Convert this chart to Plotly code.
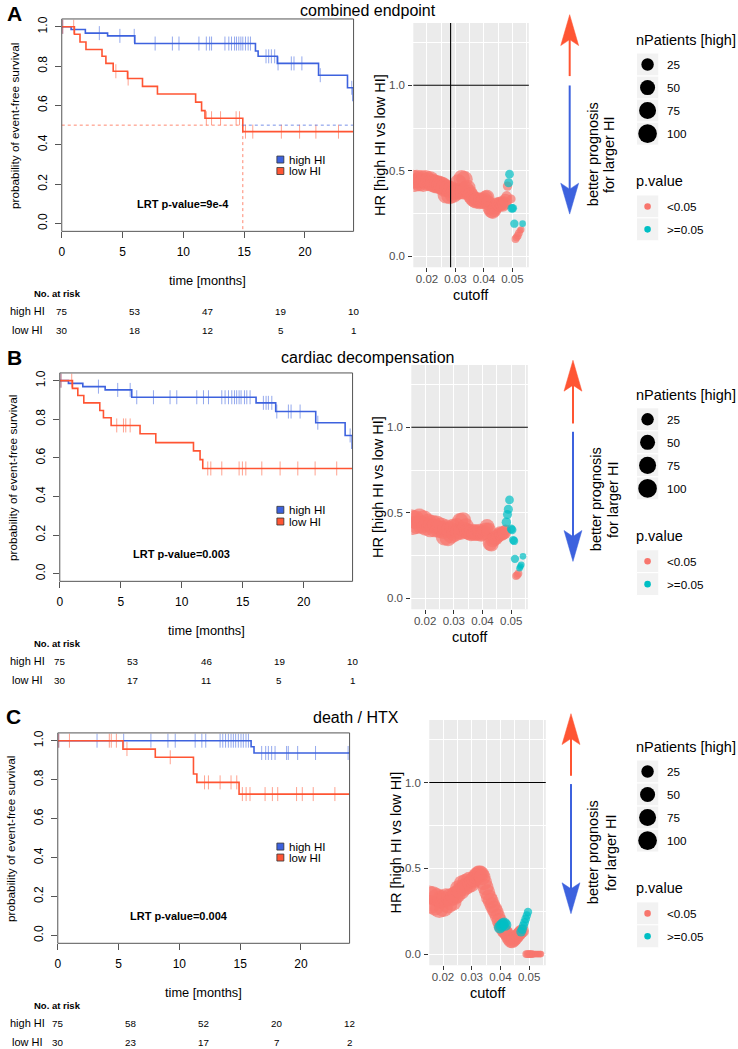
import plotly.graph_objects as go

W, H = 738, 1049
FONT = "Liberation Sans"
BLUE, RED = "#3D62DE", "#FF5533"
BLUE_TICK, RED_TICK = "rgba(61,98,222,0.55)", "rgba(255,85,51,0.55)"
PINK, TEAL = "#F8766D", "#00BFC4"
PANEL_BG = "#EBEBEB"

# ---------- panel texts ----------
tags = ["A", "B", "C"]
titles = ["combined endpoint", "cardiac decompensation", "death / HTX"]
lrt_labels = ["LRT p-value=9e-4", "LRT p-value=0.003", "LRT p-value=0.004"]
group_labels = ["high HI", "low HI"]

# ---------- Kaplan-Meier: event times [months], survival after event, censor times ----------
a_high_t = [0.77, 1.94, 3.77, 6.01, 15.93, 16.15, 17.73, 21.12, 23.5, 23.97]
a_high_s = [0.986, 0.968, 0.954, 0.915, 0.877, 0.850, 0.814, 0.754, 0.690, 0.625]
a_high_c = [0.08, 3.09, 4.78, 5.96, 7.68, 9.10, 9.64, 11.28, 11.89, 12.16, 12.32, 13.42,
            13.74, 13.96, 14.21, 14.37, 14.56, 14.73, 14.89, 15.11, 15.33, 15.52, 16.80,
            17.02, 17.24, 17.51, 17.79, 18.88, 19.10, 19.75, 21.26, 23.85]
a_low_t = [1.04, 1.50, 1.99, 3.31, 3.63, 4.23, 5.41, 6.64, 7.87, 11.01, 11.50, 11.78, 14.89]
a_low_s = [0.962, 0.923, 0.885, 0.850, 0.814, 0.774, 0.737, 0.697, 0.658, 0.617, 0.574, 0.535, 0.467]
a_low_c = [0.08, 0.98, 4.45, 5.46, 11.89, 12.32, 13.06, 14.34, 14.62, 15.11, 15.71, 18.06,
           19.56, 20.90, 22.76]

b_high_t = [0.71, 1.89, 3.72, 5.90, 16.09, 17.70, 20.98, 23.39, 23.97]
b_high_s = [0.986, 0.969, 0.952, 0.914, 0.885, 0.840, 0.782, 0.716, 0.650]
b_high_c = [0.10, 3.17, 4.75, 5.77, 6.31, 7.68, 9.04, 9.59, 11.23, 11.78, 12.19, 13.28,
            13.55, 13.83, 14.10, 14.32, 14.50, 14.70, 14.86, 15.14, 15.33, 15.60, 16.69,
            16.91, 17.10, 17.38, 17.79, 18.74, 18.96, 19.70, 21.15, 23.80]
b_low_t = [1.04, 1.48, 1.97, 3.28, 3.58, 4.21, 6.58, 7.87, 10.96, 11.50, 11.72]
b_low_s = [0.960, 0.923, 0.885, 0.845, 0.808, 0.768, 0.725, 0.679, 0.636, 0.591, 0.545]
b_low_c = [0.10, 0.98, 4.67, 5.22, 5.41, 5.77, 12.13, 12.38, 13.28, 14.70, 14.97, 15.25,
           16.56, 18.06, 19.51, 20.93, 22.70]

c_high_t = [15.90, 16.14]
c_high_s = [0.969, 0.937]
c_high_c = [0.08, 3.23, 5.42, 7.66, 9.06, 9.66, 11.30, 11.85, 12.17, 13.35, 13.57, 13.80,
            14.03, 14.25, 14.44, 14.63, 14.85, 15.07, 15.26, 15.48, 15.68, 16.77, 17.10,
            17.32, 17.59, 17.87, 18.82, 18.96, 19.73, 21.20, 23.88]
c_low_t = [5.36, 8.02, 11.16, 11.44, 14.91]
c_low_s = [0.957, 0.915, 0.829, 0.786, 0.726]
c_low_c = [0.08, 0.96, 4.24, 4.40, 4.82, 5.69, 9.25, 12.07, 12.39, 13.35, 14.25, 14.72,
           15.18, 15.49, 15.81, 17.05, 17.65, 18.09, 19.64, 20.11, 21.01, 22.79]

risk_times = [0, 6, 12, 18, 24]
a_risk_high = [75, 53, 47, 19, 10]
a_risk_low = [30, 18, 12, 5, 1]
b_risk_high = [75, 53, 46, 19, 10]
b_risk_low = [30, 17, 11, 5, 1]
c_risk_high = [75, 58, 52, 20, 12]
c_risk_low = [30, 23, 17, 7, 2]

# ---------- hazard ratio vs. cutoff ----------
band_cut = [0.0152, 0.0158, 0.0165, 0.0172, 0.0180, 0.0187, 0.0195, 0.0202,
            0.0210, 0.0218, 0.0225, 0.0233, 0.0240, 0.0248, 0.0255, 0.0262,
            0.0268, 0.0274, 0.0280, 0.0286, 0.0292, 0.0298, 0.0304, 0.0310,
            0.0316, 0.0322, 0.0327, 0.0332, 0.0337, 0.0342, 0.0348, 0.0354, 0.0360,
            0.0366, 0.0372, 0.0378, 0.0384, 0.0390, 0.0396, 0.0401, 0.0406, 0.0411,
            0.0416, 0.0421, 0.0426, 0.0431, 0.0436, 0.0441, 0.0446, 0.0451, 0.0456,
            0.0461, 0.0466, 0.0471, 0.0476]
band_n = [103, 102, 101, 100, 99, 98, 97, 96,
          95, 94, 93, 92, 91, 90, 89, 88,
          84, 81, 78, 75, 73, 72, 71, 70,
          69, 68, 67, 66, 65, 64, 62, 60, 59,
          58, 57, 56, 55, 53, 52, 50, 49, 47,
          46, 45, 44, 43, 42, 41, 40, 39, 38,
          37, 36, 35, 34]
a_band_hr = [0.45, 0.43, 0.45, 0.435, 0.45, 0.43, 0.45, 0.435,
             0.445, 0.43, 0.425, 0.42, 0.42, 0.415, 0.41, 0.40,
             0.36, 0.395, 0.355, 0.39, 0.36, 0.38, 0.375, 0.43,
             0.38, 0.455, 0.38, 0.45, 0.39, 0.40, 0.37, 0.355, 0.34,
             0.33, 0.325, 0.33, 0.32, 0.325, 0.32, 0.33, 0.34, 0.345,
             0.31, 0.28, 0.265, 0.26, 0.27, 0.285, 0.30, 0.305, 0.30,
             0.31, 0.30, 0.31, 0.325]
b_band_hr = [0.465, 0.425, 0.46, 0.43, 0.47, 0.43, 0.46, 0.42,
             0.44, 0.41, 0.435, 0.41, 0.43, 0.405, 0.42, 0.40,
             0.36, 0.41, 0.355, 0.40, 0.37, 0.415, 0.38, 0.42,
             0.39, 0.45, 0.39, 0.455, 0.40, 0.42, 0.39, 0.385, 0.38,
             0.39, 0.38, 0.385, 0.38, 0.39, 0.375, 0.38, 0.385, 0.40,
             0.42, 0.40, 0.32, 0.315, 0.34, 0.35, 0.35, 0.36, 0.37,
             0.38, 0.375, 0.38, 0.385]
c_band_hr = [0.345, 0.29, 0.34, 0.28, 0.33, 0.265, 0.32, 0.27,
             0.33, 0.29, 0.33, 0.305, 0.34, 0.35, 0.38, 0.37,
             0.41, 0.39, 0.42, 0.40, 0.43, 0.41, 0.43, 0.44,
             0.455, 0.465, 0.47, 0.465, 0.45, 0.42, 0.39, 0.36, 0.33,
             0.31, 0.285, 0.265, 0.245, 0.22, 0.195, 0.17, 0.155, 0.14,
             0.13, 0.12, 0.105, 0.09, 0.078, 0.075, 0.082, 0.09, 0.10,
             0.11, 0.12, 0.13, 0.135]

# extra points beyond the band: p<0.05 ("sig") and p>=0.05 ("ns")
a_sig_cut = [0.0480, 0.0483, 0.0496, 0.0511, 0.0515, 0.0519, 0.0523, 0.0527, 0.0531]
a_sig_hr = [0.35, 0.41, 0.335, 0.10, 0.11, 0.12, 0.135, 0.15, 0.155]
a_sig_n = [12, 7, 5, 3, 3, 3, 3, 2, 2]
a_ns_cut = [0.0487, 0.0490, 0.0498, 0.0502, 0.0507, 0.0536]
a_ns_hr = [0.43, 0.48, 0.28, 0.28, 0.19, 0.19]
a_ns_n = [6, 5, 5, 4, 4, 2]

b_sig_cut = [0.0480, 0.0517, 0.0521, 0.0525]
b_sig_hr = [0.40, 0.13, 0.135, 0.145]
b_sig_n = [12, 3, 3, 3]
b_ns_cut = [0.0483, 0.0487, 0.0490, 0.0494, 0.0500, 0.0503, 0.0507, 0.0510, 0.0513,
            0.0529, 0.0532, 0.0535, 0.0541]
b_ns_hr = [0.445, 0.49, 0.52, 0.575, 0.405, 0.40, 0.34, 0.335, 0.23, 0.175, 0.185, 0.195, 0.245]
b_ns_n = [7, 6, 6, 5, 5, 5, 4, 4, 4, 2, 2, 2, 2]

c_sig_cut = [0.0490, 0.0494, 0.0498, 0.0502, 0.0506, 0.0510, 0.0514, 0.0518, 0.0522,
             0.0526, 0.0530, 0.0534, 0.0538, 0.0541]
c_sig_hr = [0.0, 0.0, 0.0, 0.0, 0.0, 0.0, 0.0, 0.0, 0.0, 0.0, 0.0, 0.0, 0.0, 0.0]
c_sig_n = [3, 3, 3, 3, 3, 3, 2, 2, 2, 2, 2, 2, 2, 2]
c_ns_cut = [0.0398, 0.0403, 0.0408, 0.0413, 0.0418,
            0.0472, 0.0476, 0.0480, 0.0484, 0.0488, 0.0492, 0.0496]
c_ns_hr = [0.155, 0.165, 0.175, 0.18, 0.17, 0.13, 0.145, 0.165, 0.185, 0.205, 0.225, 0.245]
c_ns_n = [21, 20, 19, 18, 18, 8, 7, 6, 5, 5, 4, 4]

a_chosen_cutoff = 0.0283
size_breaks = [25, 50, 75, 100]
p_labels = ["<0.05", ">=0.05"]
N_MIN, N_MAX = 2, 103

panels = [
    dict(high=(a_high_t, a_high_s, a_high_c), low=(a_low_t, a_low_s, a_low_c),
         risk=(a_risk_high, a_risk_low), band=a_band_hr,
         sig=(a_sig_cut, a_sig_hr, a_sig_n), ns=(a_ns_cut, a_ns_hr, a_ns_n),
         median=True, vline=a_chosen_cutoff),
    dict(high=(b_high_t, b_high_s, b_high_c), low=(b_low_t, b_low_s, b_low_c),
         risk=(b_risk_high, b_risk_low), band=b_band_hr,
         sig=(b_sig_cut, b_sig_hr, b_sig_n), ns=(b_ns_cut, b_ns_hr, b_ns_n),
         median=False, vline=None),
    dict(high=(c_high_t, c_high_s, c_high_c), low=(c_low_t, c_low_s, c_low_c),
         risk=(c_risk_high, c_risk_low), band=c_band_hr,
         sig=(c_sig_cut, c_sig_hr, c_sig_n), ns=(c_ns_cut, c_ns_hr, c_ns_n),
         median=False, vline=None),
]

# ---------- page geometry (pixels) ----------
km_box = [(59, 16, 352, 229), (57, 371, 351, 580), (55, 732, 348, 943)]
hr_box = [(412, 20, 528, 265), (410, 363, 527, 608), (428, 719, 545, 965)]
tag_xy = [(12, 11), (12, 356), (11, 716)]
title_xy = [(366, 8), (365.5, 356), (354, 717)]
km_leg_y = [(157, 168.5), (508.3, 520), (846, 857)]
arrow_geo = [(569, 73.3, 11.7, 82.7, 211.7), (572.3, 421.7, 358.3, 430, 560),
             (570.3, 775, 712.7, 783.3, 913.3)]
prog_xy = [(592, 608, 152), (595, 612, 498), (592, 610, 852)]
leg_dy = [0, 355.8, 709]


def px(x):
    return x / W


def py(y):
    return 1 - y / H


def dot_size(n):
    return 4.2 + 2.45 * (1 + 5 * ((n - N_MIN) / (N_MAX - N_MIN)) ** 0.5)


def surv_at(t, times, surv):
    s = 1.0
    for ti, si in zip(times, surv):
        if ti <= t:
            s = si
    return s


def ax_name(kind, k):
    return kind + ("" if k == 1 else str(k))


fig = go.Figure()
shapes, annos = [], []
layout_axes = {}


def text(x, y, s, size=12, bold=False, xanchor="center", yanchor="middle", angle=0,
         color="black", xref="paper", yref="paper"):
    annos.append(dict(
        x=x, y=y, xref=xref, yref=yref, text=f"<b>{s}</b>" if bold else s,
        showarrow=False, xanchor=xanchor, yanchor=yanchor, textangle=angle,
        font=dict(family=FONT, size=size, color=color), borderpad=0
    ))


for i, p in enumerate(panels):
    k_km, k_hr = 2 * i + 1, 2 * i + 2
    xr, yr = ax_name("x", k_km), ax_name("y", k_km)
    xh, yh = ax_name("x", k_hr), ax_name("y", k_hr)
    x0, y0, x1, y1 = km_box[i]

    # ---- Kaplan-Meier axes ----
    layout_axes[ax_name("xaxis", k_km)] = dict(
        domain=[px(x0), px(x1)], range=[0, 24], anchor=yr,
        tickmode="array", tickvals=[0, 5, 10, 15, 20],
        ticks="outside", ticklen=6, tickcolor="#555555", ticklabelstandoff=3,
        showgrid=False, zeroline=False, showline=False,
        tickfont=dict(family=FONT, size=12, color="black")
    )
    layout_axes[ax_name("yaxis", k_km)] = dict(
        domain=[py(y1), py(y0)], range=[-0.04, 1.04], anchor=xr,
        tickmode="array", tickvals=[0, 0.2, 0.4, 0.6, 0.8, 1.0],
        ticktext=["0.0", "0.2", "0.4", "0.6", "0.8", "1.0"], tickangle=-90,
        ticks="outside", ticklen=6, tickcolor="#555555", ticklabelstandoff=3,
        showgrid=False, zeroline=False, showline=False,
        tickfont=dict(family=FONT, size=12, color="black")
    )
    shapes.append(dict(type="rect", xref=f"{xr} domain", yref=f"{yr} domain",
                       x0=0, x1=1, y0=0, y1=1, line=dict(color="#555555", width=1),
                       layer="above"))

    for key, col, tick_col in (("high", BLUE, BLUE_TICK), ("low", RED, RED_TICK)):
        t, s, c = p[key]
        fig.add_trace(go.Scatter(
            x=[0] + t + [24], y=[1.0] + s + [s[-1]], mode="lines",
            line=dict(color=col, width=1.6, shape="hv"), xaxis=xr, yaxis=yr,
            hoverinfo="skip"
        ))
        fig.add_trace(go.Scatter(
            x=c, y=[surv_at(tc, t, s) for tc in c], mode="markers",
            marker=dict(symbol="line-ns", size=10, line=dict(color=tick_col, width=1)),
            xaxis=xr, yaxis=yr, hoverinfo="skip"
        ))

    if p["median"]:
        lt, ls, _ = p["low"]
        t_med = next(tt for tt, ss in zip(lt, ls) if ss <= 0.5)
        fig.add_trace(go.Scatter(x=[0, t_med, t_med], y=[0.5, 0.5, -0.04], mode="lines",
                                 line=dict(color=RED, width=0.7, dash="dot"),
                                 xaxis=xr, yaxis=yr, hoverinfo="skip"))
        fig.add_trace(go.Scatter(x=[t_med, 24], y=[0.5, 0.5], mode="lines",
                                 line=dict(color=BLUE, width=0.7, dash="dot"),
                                 xaxis=xr, yaxis=yr, hoverinfo="skip"))

    # in-plot legend
    for (lab, col), ly in zip(zip(group_labels, (BLUE, RED)), km_leg_y[i]):
        shapes.append(dict(type="rect", xref="paper", yref="paper",
                           x0=px(275), x1=px(282), y0=py(ly + 3.5), y1=py(ly - 3.5),
                           fillcolor=col, line=dict(color="#333333", width=0.8)))
        text(px(286.5), py(ly), lab, size=11.5, xanchor="left")
    text(10, 0.1, lrt_labels[i], size=11, bold=True, xref=xr, yref=yr)

    # axis titles, tags, title
    text(px(x0 - 47), py((y0 + y1) / 2), "probability of event-free survival", size=11.8, angle=-90)
    text(px((x0 + x1) / 2), py(y1 + 49), "time [months]", size=12.8)
    text(px(tag_xy[i][0]), py(tag_xy[i][1]), tags[i], size=21, bold=True)
    text(px(title_xy[i][0]), py(title_xy[i][1]), titles[i], size=16)

    # numbers at risk
    text(px(54.5), py(y1 + 62), "No. at risk", size=9.5, bold=True)
    for lab, row, dy in zip(group_labels, p["risk"], (80, 99)):
        text(px(24.5), py(y1 + dy), lab, size=11)
        for tt, nn in zip(risk_times, row):
            text(tt, py(y1 + dy), str(nn), size=9.8, xref=xr)

    # ---- HR vs cutoff axes ----
    hx0, hy0, hx1, hy1 = hr_box[i]
    layout_axes[ax_name("xaxis", k_hr)] = dict(
        domain=[px(hx0), px(hx1)], range=[0.0152, 0.0558], anchor=yh,
        tickmode="array", tickvals=[0.02, 0.03, 0.04, 0.05],
        ticktext=["0.02", "0.03", "0.04", "0.05"],
        ticks="outside", ticklen=4, tickcolor="#333333", ticklabelstandoff=-3,
        showgrid=True, gridcolor="white", gridwidth=1.1, zeroline=False, showline=False,
        minor=dict(tickmode="array", tickvals=[0.015, 0.025, 0.035, 0.045, 0.055],
                   showgrid=True, gridcolor="white", gridwidth=0.55),
        tickfont=dict(family=FONT, size=11.5, color="#4D4D4D")
    )
    layout_axes[ax_name("yaxis", k_hr)] = dict(
        domain=[py(hy1), py(hy0)], range=[-0.065, 1.365], anchor=xh,
        tickmode="array", tickvals=[0, 0.5, 1.0], ticktext=["0.0", "0.5", "1.0"],
        ticks="outside", ticklen=4, tickcolor="#333333", ticklabelstandoff=1,
        showgrid=True, gridcolor="white", gridwidth=1.1, zeroline=False, showline=False,
        minor=dict(tickmode="array", tickvals=[0.25, 0.75, 1.25],
                   showgrid=True, gridcolor="white", gridwidth=0.55),
        tickfont=dict(family=FONT, size=11.5, color="#4D4D4D")
    )
    shapes.append(dict(type="rect", xref=f"{xh} domain", yref=f"{yh} domain",
                       x0=0, x1=1, y0=0, y1=1, fillcolor=PANEL_BG, line=dict(width=0),
                       layer="below"))

    sc, sh, sn = p["sig"]
    nc, nh, nn_ = p["ns"]
    sig_x = band_cut + sc
    sig_y = p["band"] + sh
    sig_n = band_n + sn
    fig.add_trace(go.Scatter(x=sig_x, y=sig_y, mode="markers",
                             marker=dict(color=PINK, size=[dot_size(v) for v in sig_n],
                                         line=dict(width=0)),
                             xaxis=xh, yaxis=yh, hoverinfo="skip"))
    fig.add_trace(go.Scatter(x=nc, y=nh, mode="markers",
                             marker=dict(color=TEAL, size=[dot_size(v) for v in nn_],
                                         line=dict(width=0)),
                             xaxis=xh, yaxis=yh, hoverinfo="skip"))

    shapes.append(dict(type="line", xref=f"{xh} domain", yref=yh, x0=0, x1=1, y0=1, y1=1,
                       line=dict(color="black", width=1.1), layer="above"))
    if p["vline"] is not None:
        shapes.append(dict(type="line", xref=xh, yref=f"{yh} domain", x0=p["vline"],
                           x1=p["vline"], y0=0, y1=1,
                           line=dict(color="black", width=1.1), layer="above"))

    text(px(hx0 - 33.5), py((hy0 + hy1) / 2), "HR [high HI vs low HI]", size=14.5, angle=-90)
    text(px((hx0 + hx1) / 2), py(hy1 + 28), "cutoff", size=14.5)

    # prognosis arrows
    ax, r_tail, r_tip, b_tail, b_tip = arrow_geo[i]
    for tail, tip, col, sgn in ((r_tail, r_tip, RED, 1), (b_tail, b_tip, BLUE, -1)):
        shapes.append(dict(type="line", xref="paper", yref="paper",
                           x0=px(ax), x1=px(ax), y0=py(tail), y1=py(tip + sgn * 24),
                           line=dict(color=col, width=2)))
        path = (f"M {px(ax)},{py(tip)} L {px(ax - 9)},{py(tip + sgn * 31)} "
                f"L {px(ax)},{py(tip + sgn * 25)} L {px(ax + 9)},{py(tip + sgn * 31)} Z")
        shapes.append(dict(type="path", xref="paper", yref="paper", path=path,
                           fillcolor=col, line=dict(color=col, width=0.5)))
    lx1, lx2, ly = prog_xy[i]
    text(px(lx1), py(ly), "better prognosis", size=14.5, angle=-90)
    text(px(lx2), py(ly), "for larger HI", size=14.5, angle=-90)

    # ggplot-style legends
    dy = leg_dy[i]
    text(px(635), py(37 + dy), "nPatients [high]", size=14.5, xanchor="left")
    for j, nb in enumerate(size_breaks):
        cy = 61.7 + 23.1 * j + dy
        shapes.append(dict(type="rect", xref="paper", yref="paper",
                           x0=px(636), x1=px(658.5), y0=py(cy + 11.5), y1=py(cy - 11.5),
                           fillcolor="#F2F2F2", line=dict(color="white", width=1)))
        r = dot_size(nb) / 2
        shapes.append(dict(type="circle", xref="paper", yref="paper",
                           x0=px(647.2 - r), x1=px(647.2 + r), y0=py(cy + r), y1=py(cy - r),
                           fillcolor="black", line=dict(width=0)))
        text(px(666), py(cy), str(nb), size=11.7, xanchor="left")
    text(px(635), py(179 + dy), "p.value", size=14.5, xanchor="left")
    for j, (lab, col) in enumerate(zip(p_labels, (PINK, TEAL))):
        cy = 204 + 23 * j + dy
        shapes.append(dict(type="rect", xref="paper", yref="paper",
                           x0=px(636), x1=px(658.5), y0=py(cy + 11.5), y1=py(cy - 11.5),
                           fillcolor="#F2F2F2", line=dict(color="white", width=1)))
        shapes.append(dict(type="circle", xref="paper", yref="paper",
                           x0=px(647.2 - 3.3), x1=px(647.2 + 3.3), y0=py(cy + 3.3),
                           y1=py(cy - 3.3), fillcolor=col, line=dict(width=0)))
        text(px(666), py(cy), lab, size=11.7, xanchor="left")

fig.update_layout(
    width=W, height=H, margin=dict(l=0, r=0, t=0, b=0),
    paper_bgcolor="white", plot_bgcolor="rgba(0,0,0,0)",
    showlegend=False, font=dict(family=FONT, color="black"),
    shapes=shapes, annotations=annos, **layout_axes
)

# the page body has a default 8px margin; remove it so the figure fills the window
fig.write_html("out.html", config={"displayModeBar": False},
               post_script="document.body.style.margin='0';document.body.style.overflow='hidden';")
